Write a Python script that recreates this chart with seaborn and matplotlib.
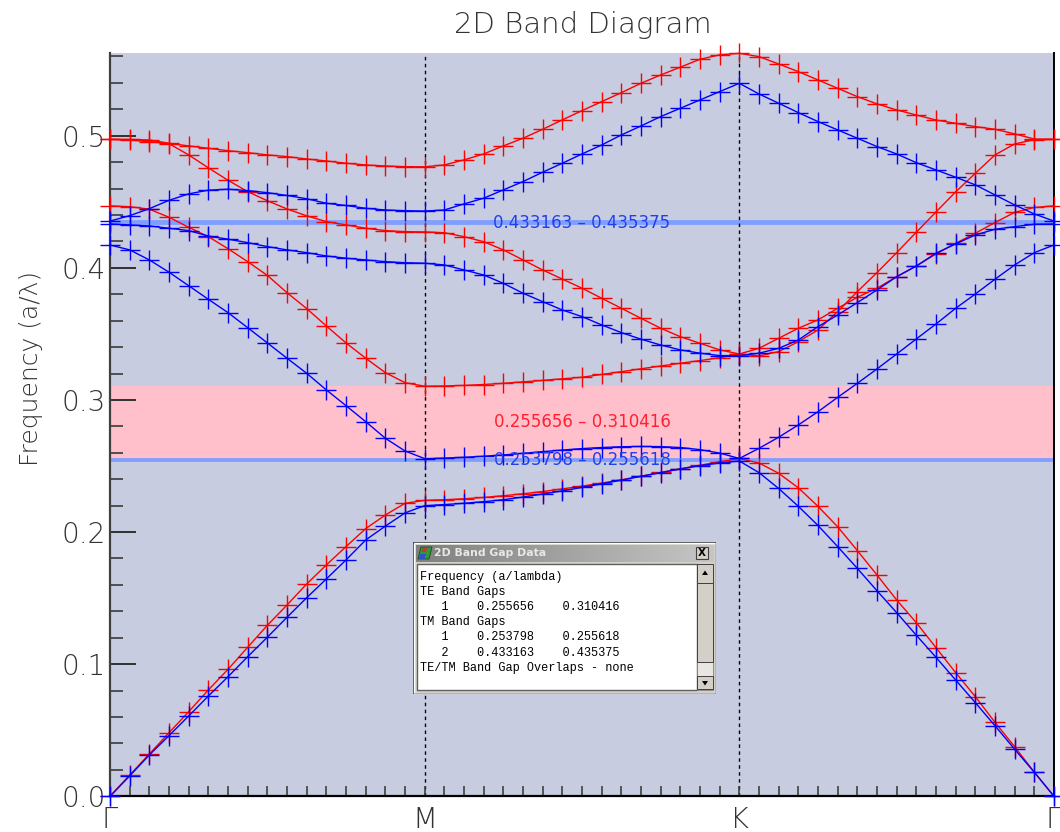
import numpy as np
import pandas as pd
import matplotlib
matplotlib.use("Agg")
import matplotlib.pyplot as plt
import seaborn as sns
from matplotlib.patches import Rectangle, Polygon
from matplotlib.colors import LinearSegmentedColormap
from matplotlib.ticker import MultipleLocator, FixedLocator

# ---------------- data ----------------
k_tick_pos = [0, 16, 32, 48]
k_tick_labels = ["Γ", "M", "K", "Γ"]

te1 = [0.0, 0.0161, 0.0320, 0.0481, 0.0640, 0.0805, 0.0961, 0.1128, 0.1294, 0.1448, 0.1607, 0.1751, 0.1890, 0.2026, 0.2129, 0.2218, 0.2240,
       0.2245, 0.2252, 0.2262, 0.2275, 0.2290, 0.2307, 0.2327, 0.2348, 0.2371, 0.2396, 0.2423, 0.2451, 0.2479, 0.2506, 0.2533, 0.2557,
       0.2523, 0.2445, 0.2335, 0.2195, 0.2040, 0.1860, 0.1675, 0.1486, 0.1314, 0.1125, 0.0936, 0.0754, 0.0560, 0.0375, 0.0182, 0.0]
te2 = [0.4469, 0.4463, 0.4444, 0.4383, 0.4307, 0.4236, 0.4145, 0.4047, 0.3943, 0.3812, 0.3692, 0.3560, 0.3432, 0.3316, 0.3207, 0.3131, 0.3104,
       0.3106, 0.3110, 0.3117, 0.3126, 0.3137, 0.3148, 0.3160, 0.3172, 0.3193, 0.3214, 0.3236, 0.3257, 0.3278, 0.3298, 0.3320, 0.3348,
       0.3391, 0.3467, 0.3543, 0.3606, 0.3694, 0.3777, 0.3846, 0.3933, 0.4014, 0.4105, 0.4186, 0.4262, 0.4343, 0.4420, 0.4457, 0.4469]
te3 = [0.4972, 0.4968, 0.4955, 0.4940, 0.4855, 0.4757, 0.4663, 0.4577, 0.4508, 0.4446, 0.4394, 0.4350, 0.4325, 0.4300, 0.4282, 0.4274, 0.4272,
       0.4266, 0.4236, 0.4198, 0.4136, 0.4060, 0.3984, 0.3915, 0.3846, 0.3770, 0.3694, 0.3618, 0.3543, 0.3479, 0.3429, 0.3379, 0.3348,
       0.3333, 0.3366, 0.3441, 0.3530, 0.3669, 0.3820, 0.3964, 0.4115, 0.4270, 0.4423, 0.4575, 0.4716, 0.4855, 0.4938, 0.4970, 0.4972]
te4 = [0.4973, 0.4972, 0.4968, 0.4943, 0.4923, 0.4905, 0.4887, 0.4872, 0.4855, 0.4842, 0.4824, 0.4809, 0.4792, 0.4779, 0.4771, 0.4766, 0.4765,
       0.4779, 0.4817, 0.4862, 0.4923, 0.4981, 0.5049, 0.5120, 0.5190, 0.5258, 0.5326, 0.5397, 0.5460, 0.5519, 0.5579, 0.5612, 0.5624,
       0.5599, 0.5543, 0.5485, 0.5422, 0.5359, 0.5296, 0.5241, 0.5195, 0.5157, 0.5119, 0.5094, 0.5069, 0.5049, 0.5014, 0.4975, 0.4973]

tm1 = [0.0, 0.0154, 0.0313, 0.0459, 0.0608, 0.0759, 0.0905, 0.1057, 0.1204, 0.1355, 0.1503, 0.1645, 0.1789, 0.1940, 0.2045, 0.2145, 0.2200,
       0.2208, 0.2218, 0.2230, 0.2245, 0.2265, 0.2288, 0.2312, 0.2338, 0.2365, 0.2393, 0.2422, 0.2450, 0.2478, 0.2503, 0.2523, 0.2538,
       0.2450, 0.2330, 0.2195, 0.2050, 0.1890, 0.1725, 0.1556, 0.1390, 0.1219, 0.1052, 0.0880, 0.0709, 0.0534, 0.0356, 0.0182, 0.0]
tm2 = [0.4173, 0.4136, 0.4060, 0.3967, 0.3865, 0.3762, 0.3661, 0.3547, 0.3432, 0.3316, 0.3202, 0.3076, 0.2957, 0.2836, 0.2710, 0.2614, 0.2556,
       0.2560, 0.2566, 0.2574, 0.2584, 0.2596, 0.2609, 0.2621, 0.2632, 0.2640, 0.2646, 0.2648, 0.2647, 0.2640, 0.2624, 0.2598, 0.2557,
       0.2634, 0.2718, 0.2811, 0.2911, 0.3020, 0.3126, 0.3235, 0.3348, 0.3462, 0.3575, 0.3694, 0.3802, 0.3914, 0.4022, 0.4115, 0.4173]
tm3 = [0.4332, 0.4325, 0.4317, 0.4300, 0.4282, 0.4241, 0.4217, 0.4191, 0.4161, 0.4136, 0.4115, 0.4090, 0.4073, 0.4060, 0.4047, 0.4039, 0.4035,
       0.4022, 0.3984, 0.3946, 0.3883, 0.3808, 0.3744, 0.3681, 0.3631, 0.3568, 0.3510, 0.3460, 0.3416, 0.3379, 0.3354, 0.3336, 0.3335,
       0.3354, 0.3391, 0.3454, 0.3555, 0.3643, 0.3737, 0.3833, 0.3933, 0.4014, 0.4111, 0.4181, 0.4249, 0.4292, 0.4312, 0.4330, 0.4332]
tm4 = [0.4354, 0.4395, 0.4448, 0.4511, 0.4560, 0.4588, 0.4595, 0.4585, 0.4569, 0.4548, 0.4523, 0.4489, 0.4472, 0.4451, 0.4438, 0.4433, 0.4430,
       0.4438, 0.4484, 0.4527, 0.4590, 0.4653, 0.4724, 0.4792, 0.4862, 0.4930, 0.5006, 0.5074, 0.5145, 0.5208, 0.5271, 0.5334, 0.5397,
       0.5316, 0.5246, 0.5175, 0.5107, 0.5044, 0.4981, 0.4918, 0.4862, 0.4796, 0.4741, 0.4686, 0.4628, 0.4552, 0.4476, 0.4408, 0.4354]

te_gaps = [(0.255656, 0.310416)]
tm_gaps = [(0.253798, 0.255618), (0.433163, 0.435375)]

dialog_title = "2D Band Gap Data"
dialog_lines = [
    "Frequency (a/lambda)",
    "TE Band Gaps",
    "   1    0.255656    0.310416",
    "TM Band Gaps",
    "   1    0.253798    0.255618",
    "   2    0.433163    0.435375",
    "TE/TM Band Gap Overlaps - none",
]

# ---------------- figure ----------------
W, H = 1060, 832
fig = plt.figure(figsize=(W / 100, H / 100), dpi=100)
plt.rcParams['font.family'] = ['DejaVu Sans']

x0, x1, ytop, ybot = 110, 1054, 53.3, 796.3
ax = fig.add_axes([x0 / W, (H - ybot) / H, (x1 - x0) / W, (ybot - ytop) / H])
ax.set_facecolor('#c7cce0')

bands = {"TE1": te1, "TE2": te2, "TE3": te3, "TE4": te4,
         "TM1": tm1, "TM2": tm2, "TM3": tm3, "TM4": tm4}
rows = []
for name, vals in bands.items():
    for i, v in enumerate(vals):
        rows.append({"k": i, "freq": v, "band": name, "pol": name[:2]})
df = pd.DataFrame(rows)

# gap shading
for lo, hi in te_gaps:
    ax.axhspan(lo, hi, color='#ffc0cb', zorder=0.5, lw=0)
for lo, hi in tm_gaps:
    ax.axhspan(lo, hi, color='#809eff', zorder=0.6, lw=0)
    ax.axhline(lo, color='#809eff', lw=1.3, zorder=0.6)
    ax.axhline(hi, color='#809eff', lw=1.3, zorder=0.6)

for xv in [16, 32]:
    ax.axvline(xv, color='black', lw=1.0, ls=(0, (2.5, 2.5)), zorder=1)

sns.lineplot(data=df, x="k", y="freq", hue="pol", units="band", estimator=None,
             palette={"TE": "#ff0000", "TM": "#0000ff"}, marker='+',
             markersize=14, markeredgewidth=1.0, linewidth=1.0,
             legend=False, sort=False, ax=ax, clip_on=False, zorder=3)
for ln in ax.lines:
    if ln.get_marker() == '+':
        ln.set_markeredgecolor(ln.get_color())

# gap labels
xc = 24
for lo, hi in te_gaps:
    ax.text(xc, (lo + hi) / 2, f"{lo:.6f} – {hi:.6f}", ha='center', va='center',
            fontsize=12, color='#ff2030', zorder=4)
for lo, hi in tm_gaps:
    ax.text(xc, (lo + hi) / 2, f"{lo:.6f} – {hi:.6f}", ha='center', va='center',
            fontsize=12, color='#2040f0', zorder=4)

ax.set_xlim(0, 48)
ax.set_ylim(0, 0.5624)
ax.set_xlabel("")
ax.set_ylabel("")
ax.xaxis.set_major_locator(FixedLocator(k_tick_pos))
ax.set_xticklabels(k_tick_labels)
ax.xaxis.set_minor_locator(MultipleLocator(1))
ax.set_yticks([0.0, 0.1, 0.2, 0.3, 0.4, 0.5])
ax.set_yticklabels(["0.0", "0.1", "0.2", "0.3", "0.4", "0.5"])
ax.yaxis.set_minor_locator(MultipleLocator(0.02))
ax.tick_params(axis='y', which='major', direction='in', length=19, width=1.4,
               color='#303030', labelsize=20, labelcolor='#333333', pad=3)
ax.tick_params(axis='y', which='minor', direction='in', length=9.5, width=1.4, color='#505050')
ax.tick_params(axis='x', which='both', direction='in', length=7.5, width=1.2,
               color='#404040', labelsize=21, labelcolor='#333333', pad=7)
for lab in ax.get_yticklabels() + ax.get_xticklabels():
    lab.set_fontweight('light')

ax.spines['top'].set_visible(False)
ax.spines['left'].set_color('#404040')
ax.spines['left'].set_linewidth(1.6)
ax.spines['bottom'].set_color('black')
ax.spines['bottom'].set_linewidth(1.6)
ax.spines['right'].set_color('black')
ax.spines['right'].set_linewidth(1.4)

fig.text(583 / W, 1 - 25 / H, "2D Band Diagram", ha='center', va='center',
         fontsize=21, color='#333333', fontweight='light')
fig.text(31 / W, 1 - 368 / H, "Frequency (a/λ)", ha='center', va='center',
         rotation=90, fontsize=18, color='#333333', fontweight='light')

# ---------------- dialog inset ----------------
dx0, dy0, dw, dh = 413, 542, 303, 152
dax = fig.add_axes([dx0 / W, 1 - (dy0 + dh) / H, dw / W, dh / H], zorder=10)
dax.set_axis_off()
face = '#d4d0c8'
dax.add_patch(Rectangle((0, 0), dw, dh, facecolor=face, edgecolor='#404040', lw=1.0))
dax.add_patch(Polygon([(0.5, dh - 1), (0.5, 0.5), (dw - 1, 0.5)], closed=False, fill=False, edgecolor='white', lw=1.0))
grad = np.linspace(0, 1, 200)[None, :]
cmap = LinearSegmentedColormap.from_list('tb', ['#808080', '#c6c6c6'])
dax.imshow(grad, cmap=cmap, extent=(3, dw - 3, 20, 3), aspect='auto', zorder=1)
# icon
dax.add_patch(Polygon([(5, 17), (8, 5), (19, 5), (16, 17)], facecolor='#2e9a3a', edgecolor='#1b4a1b', lw=0.6, zorder=2))
dax.add_patch(Polygon([(6, 17), (7.5, 12), (13, 12), (11.5, 17)], facecolor='#3050d0', lw=0, zorder=2))
dax.add_patch(Polygon([(9, 10), (10, 6), (14, 6), (13, 10)], facecolor='#d03030', lw=0, zorder=2))
dax.text(21, 11.5, dialog_title, ha='left', va='center', fontsize=7.8, fontweight='bold',
         color='#e8e8e8', zorder=3)
# close button
dax.add_patch(Rectangle((283, 5), 12, 12, facecolor=face, edgecolor='#404040', lw=0.8, zorder=2))
dax.text(289, 11.3, "X", ha='center', va='center', fontsize=7.5, fontweight='bold', color='black', zorder=3)
# content area
dax.add_patch(Rectangle((3.5, 21.5), 280, 126, facecolor='white', edgecolor='#606060', lw=1.0, zorder=1))
# scrollbar
dax.add_patch(Rectangle((284, 21.5), 16, 126, facecolor='#e8e6e0', edgecolor='#808080', lw=0.6, zorder=1))
dax.add_patch(Rectangle((284, 21.5), 16, 19, facecolor=face, edgecolor='#404040', lw=0.7, zorder=2))
dax.add_patch(Rectangle((284, 41), 16, 79, facecolor=face, edgecolor='#404040', lw=0.7, zorder=2))
dax.add_patch(Rectangle((284, 134), 16, 13, facecolor=face, edgecolor='#404040', lw=0.7, zorder=2))
dax.add_patch(Polygon([(289, 33), (295, 33), (292, 28.5)], facecolor='black', lw=0, zorder=3))
dax.add_patch(Polygon([(289, 139), (295, 139), (292, 143.5)], facecolor='black', lw=0, zorder=3))
for j, line in enumerate(dialog_lines):
    dax.text(7, 35 + j * 15.1, line, ha='left', va='center', fontsize=8.6,
             family='Liberation Mono', color='black', zorder=3)
dax.set_xlim(0, dw)
dax.set_ylim(dh, 0)

fig.savefig("out.png", dpi=100)
